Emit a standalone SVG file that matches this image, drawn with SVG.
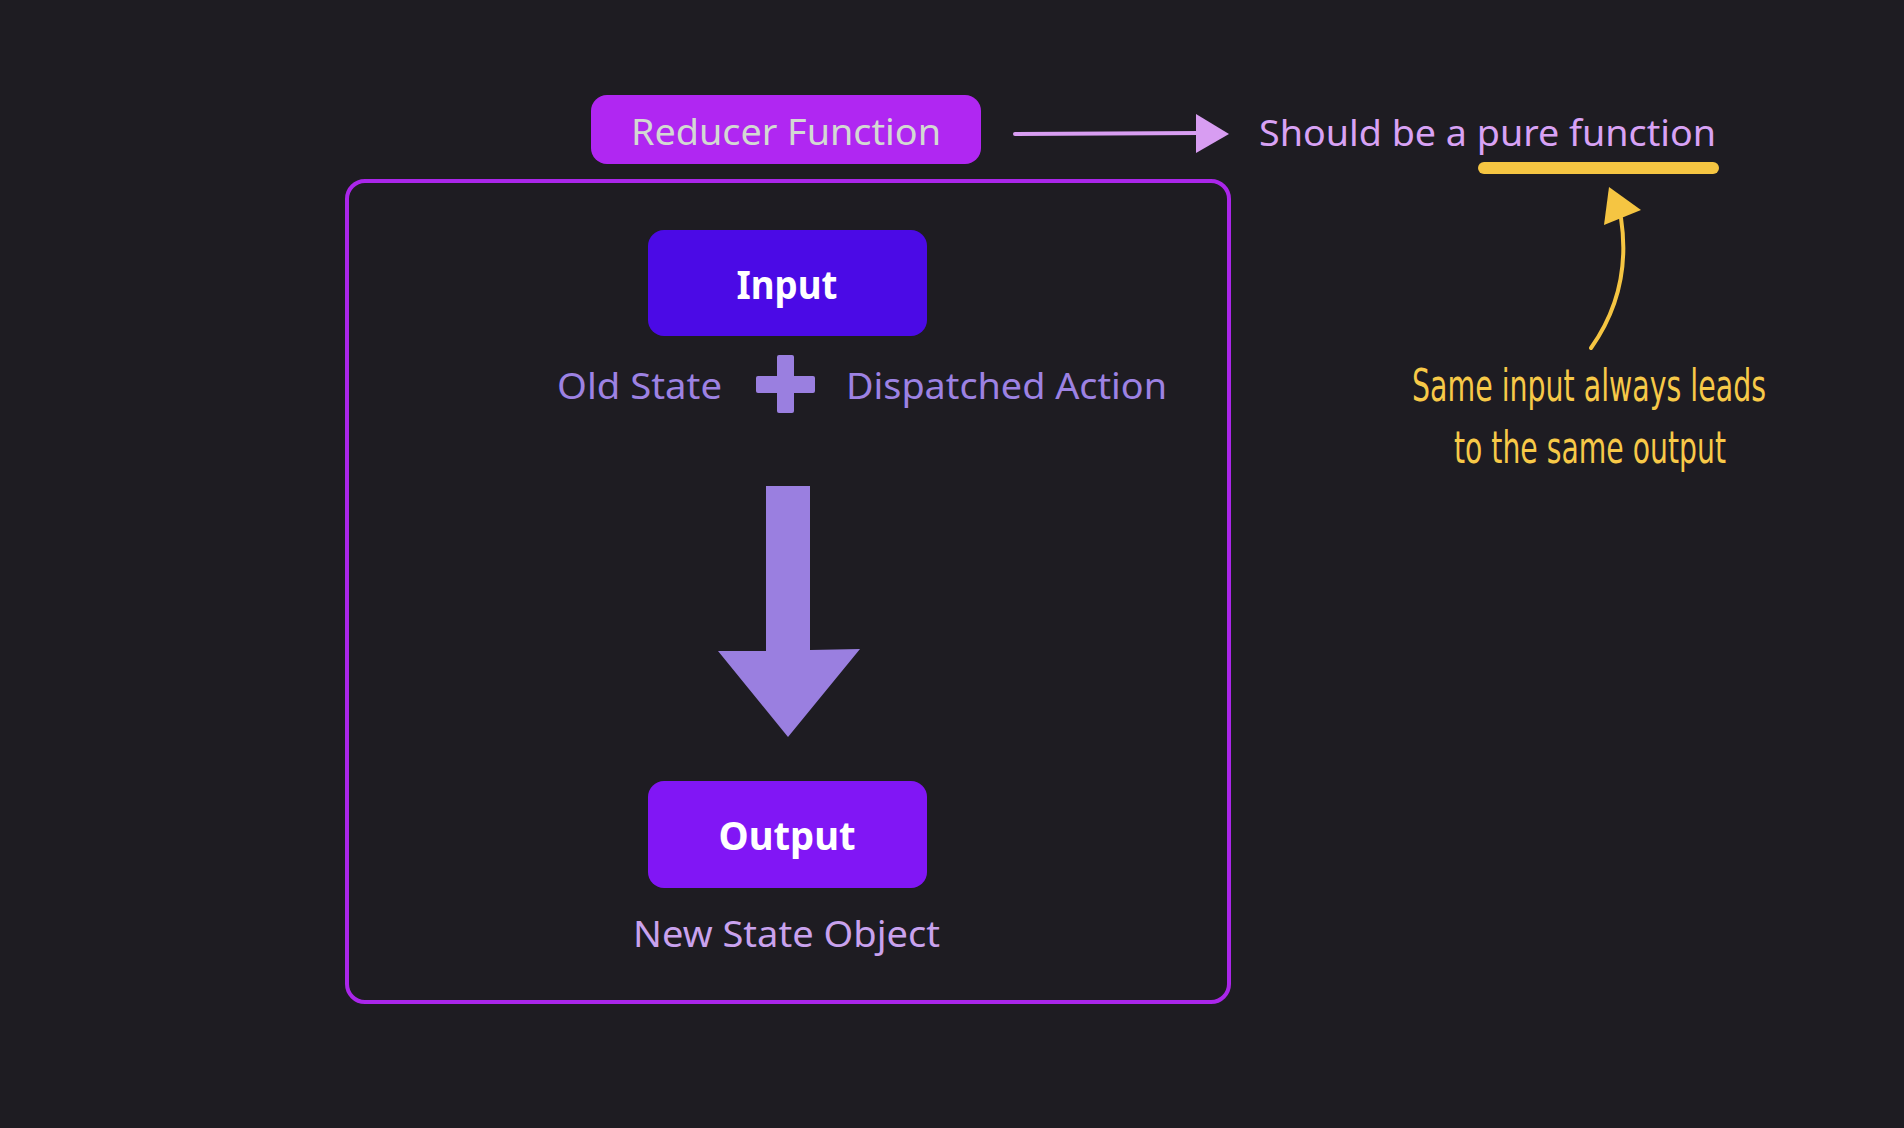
<svg xmlns="http://www.w3.org/2000/svg" width="1904" height="1128" viewBox="0 0 1904 1128">
<style>
.ui{font-family:"Noto Sans","Open Sans","Liberation Sans",sans-serif;}
.hand{font-family:"Liberation Sans Narrow","DejaVu Sans Condensed","Liberation Sans",sans-serif;font-stretch:condensed;}
.lbl{font-size:36px;text-anchor:middle;dominant-baseline:central;}
.bold{font-weight:700;fill:#ffffff;font-size:40px;}
.soft{fill:#9d82e3;}
</style>
<defs>
<marker id="tri" viewBox="0 0 10 10" refX="9" refY="5" markerWidth="8" markerHeight="8" markerUnits="userSpaceOnUse" orient="auto">
<path d="M0,0 L10,5 L0,10 z" fill="#d89df2"/>
</marker>
</defs>
<rect width="1904" height="1128" fill="#1e1c22"/>

<g id="container">
<rect x="347" y="181" width="882" height="821" rx="18" fill="none" stroke="#aa26ea" stroke-width="4"/>
</g>

<g id="reducer-function">
<rect x="591" y="95" width="390" height="69" rx="16" fill="#b027f2"/>
<text class="ui lbl" x="786" y="131" fill="#d3d9d2" textLength="310" lengthAdjust="spacingAndGlyphs">Reducer Function</text>
</g>

<g id="pure-note">
<text class="ui" x="1259" y="146" font-size="37" fill="#d8a2f5" textLength="457" lengthAdjust="spacingAndGlyphs">Should be a pure function</text>
<line x1="1484" y1="168" x2="1713" y2="168" stroke="#f5c542" stroke-width="12" stroke-linecap="round"/>
</g>

<g id="same-input-note">
<text class="hand" x="1589" y="401" font-size="44" fill="#f7c948" text-anchor="middle" textLength="354" lengthAdjust="spacingAndGlyphs">Same input always leads</text>
<text class="hand" x="1590" y="463" font-size="44" fill="#f7c948" text-anchor="middle" textLength="272" lengthAdjust="spacingAndGlyphs">to the same output</text>
</g>

<g id="input">
<rect x="648" y="230" width="279" height="106" rx="16" fill="#4b0ae6"/>
<text class="ui lbl bold" x="787" y="283" textLength="101" lengthAdjust="spacingAndGlyphs">Input</text>
</g>

<g id="old-state">
<text class="ui soft" x="557" y="399" font-size="37" textLength="165" lengthAdjust="spacingAndGlyphs">Old State</text>
</g>

<g id="plus">
<rect x="756" y="376" width="59" height="17" rx="2" fill="#9a7fe0"/>
<rect x="777" y="355" width="17" height="58" rx="2" fill="#9a7fe0"/>
</g>

<g id="dispatched-action">
<text class="ui soft" x="846" y="399" font-size="37" textLength="321" lengthAdjust="spacingAndGlyphs">Dispatched Action</text>
</g>

<g id="output">
<rect x="648" y="781" width="279" height="107" rx="16" fill="#8116f5"/>
<text class="ui lbl bold" x="787" y="834" textLength="137" lengthAdjust="spacingAndGlyphs">Output</text>
</g>

<g id="new-state-object">
<text class="ui" x="633" y="947" font-size="37" fill="#c9a2ee" textLength="307" lengthAdjust="spacingAndGlyphs">New State Object</text>
</g>

<g id="connectors">
<path d="M1015,134 L1200,133" fill="none" stroke="#d89df2" stroke-width="4" stroke-linecap="round"/>
<path d="M1196,114 L1229,134 L1196,153 z" fill="#d89df2"/>
<path d="M766,486 L810,486 L810,650 L860,649 L788,737 L718,651 L766,651 z" fill="#9a7fe0"/>
<path d="M1591,348 Q1632,290 1621,218" fill="none" stroke="#f5c542" stroke-width="4" stroke-linecap="round"/>
<path d="M1609,187 L1641,210 L1604,225 z" fill="#f5c542"/>
</g>
</svg>
